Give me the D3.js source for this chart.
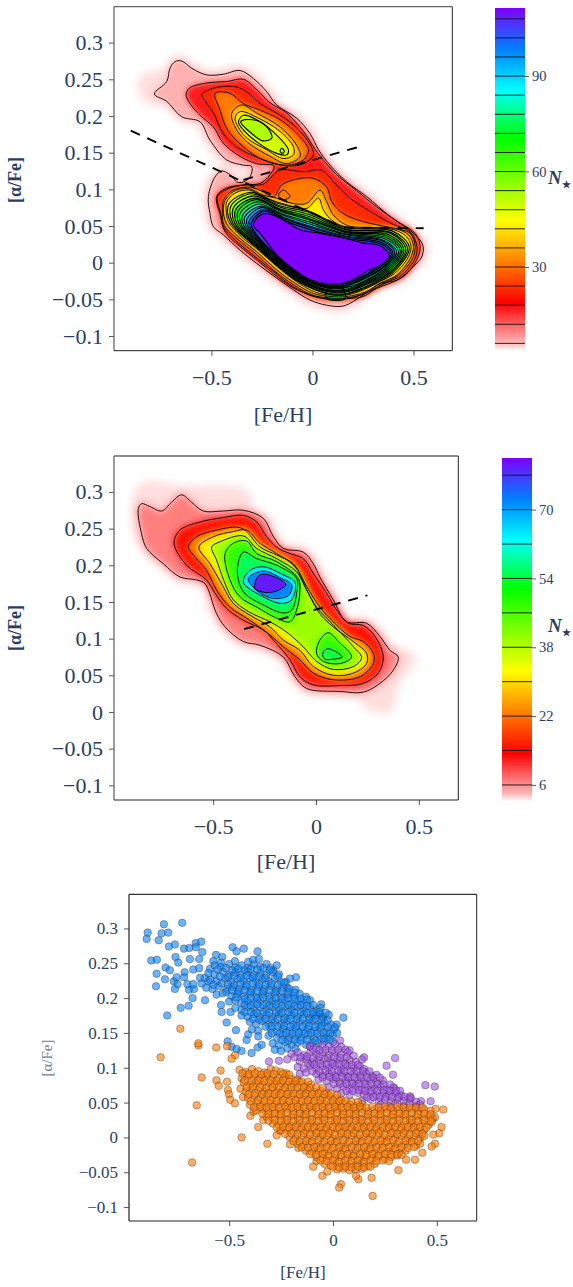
<!DOCTYPE html>
<html>
<head>
<meta charset="utf-8">
<script src="https://cdn.jsdelivr.net/npm/d3@7"></script>
<style>
  html, body { margin: 0; padding: 0; background: #fff; }
  svg { display: block; }
  text { font-family: "Liberation Serif", serif; fill: #2a3f5f; }
</style>
</head>
<body>
<svg id="chart"></svg>
<script>
const w = 573
const h = 1287

// axes
const fehTicks = [-0.5, 0, 0.5]
const alphaTicks = [0.3, 0.25, 0.2, 0.15, 0.1, 0.05, 0, -0.05, -0.1]
const fehDomain = [-0.982, 0.692]
const alphaDomain = [-0.12, 0.349]

// colour bars
const barTicksA = [30, 60, 90]
const barTicksB = [6, 22, 38, 54, 70]
const barRangeA = [3.6, 111.4]
const barRangeB = [2.1, 82]
const levelsA = [6, 12, 18, 24, 30, 36, 42, 48, 54, 60, 66, 72, 78, 84, 90, 96, 102, 108]
const levelsB = [6, 14, 22, 30, 38, 46, 54, 62, 70, 78]
const rainbowStops = [0, 0.025, 0.14, 0.26, 0.38, 0.5, 0.62, 0.69, 0.76, 0.88, 1]
const rainbowColors = ['#ffffff', '#ffb4b4', '#ff0000', '#ff8000', '#ffff00', '#80ff00', '#00ff00', '#00ff80', '#00ffff', '#0080ff', '#7f00ff']

// dashed separation lines
const splitLow = [[-0.899, 0.180], [0.153, 0.048], [0.550, 0.047]]
const splitHigh = [[-0.342, 0.113], [0.244, 0.159]]
const splitHighB = [[-0.350, 0.113], [0.250, 0.159]]

// top panel, density contours as [Fe/H], [a/Fe]
const ringA6 = [[-.782,.230],[-.721,.247],[-.705,.265],[-.680,.274],[-.647,.275],[-.597,.265],[-.523,.256],[-.441,.257],[-.358,.262],[-.292,.251],[-.226,.233],[-.177,.215],[-.078,.197],[-.012,.176],[.030,.154],[.087,.133],[.170,.110],[.269,.090],[.384,.063],[.492,.042],[.546,.024],[.541,.008],[.500,-.005],[.417,-.024],[.335,-.028],[.252,-.044],[.153,-.059],[.071,-.058],[-.012,-.051],[-.094,-.037],[-.177,-.021],[-.276,-.001],[-.358,.017],[-.441,.038],[-.490,.049],[-.507,.067],[-.515,.090],[-.482,.117],[-.449,.125],[-.399,.118],[-.375,.110],[-.342,.110],[-.309,.117],[-.300,.131],[-.342,.133],[-.424,.140],[-.507,.167],[-.556,.192],[-.647,.199],[-.721,.220]]
const ringA12 = [[-.625,.229],[-.609,.238],[-.523,.245],[-.424,.247],[-.342,.250],[-.276,.236],[-.210,.218],[-.127,.204],[-.045,.179],[.005,.158],[.051,.141],[.120,.120],[.219,.098],[.318,.076],[.426,.055],[.508,.040],[.533,.022],[.516,.004],[.459,-.017],[.384,-.028],[.318,-.035],[.252,-.046],[.170,-.049],[.071,-.049],[-.012,-.044],[-.102,-.033],[-.193,-.015],[-.276,.004],[-.358,.022],[-.432,.042],[-.454,.063],[-.474,.090],[-.432,.101],[-.342,.106],[-.259,.108],[-.210,.120],[-.190,.132],[-.276,.135],[-.358,.145],[-.441,.163],[-.490,.185],[-.556,.201],[-.606,.217]]
const ringA18up = [[-.548,.229],[-.490,.238],[-.383,.240],[-.325,.233],[-.259,.217],[-.177,.204],[-.094,.188],[-.020,.165],[.005,.147],[-.045,.135],[-.127,.132],[-.259,.142],[-.375,.158],[-.441,.176],[-.490,.204],[-.540,.224]]
const ringA24up = [[-.482,.231],[-.408,.231],[-.342,.217],[-.259,.208],[-.160,.195],[-.078,.176],[-.020,.154],[-.045,.140],[-.127,.133],[-.243,.140],[-.342,.158],[-.424,.183],[-.457,.208]]
const ringA30up = [[-.399,.204],[-.350,.215],[-.276,.204],[-.160,.185],[-.078,.160],[-.061,.145],[-.127,.135],[-.210,.145],[-.325,.165],[-.383,.185]]
const ringA36up = [[-.383,.197],[-.358,.206],[-.267,.197],[-.160,.179],[-.094,.158],[-.094,.147],[-.144,.142],[-.226,.154],[-.333,.172]]
const ringA42up = [[-.366,.192],[-.342,.201],[-.276,.195],[-.177,.174],[-.119,.154],[-.127,.147],[-.177,.149],[-.267,.163],[-.342,.181]]
const ringA48up = [[-.355,.192],[-.333,.195],[-.259,.192],[-.210,.179],[-.201,.170],[-.243,.166],[-.300,.176]]
const ringA48dot = [[-.160,.152],[-.152,.156],[-.139,.152],[-.149,.149]]
const ringA18 = [[-.470,.090],[-.416,.101],[-.333,.106],[-.243,.107],[-.177,.124],[-.144,.127],[-.045,.124],[.046,.126],[.112,.108],[.186,.088],[.285,.070],[.393,.053],[.483,.042],[.517,.022],[.508,.006],[.442,-.017],[.368,-.027],[.294,-.037],[.219,-.046],[.104,-.050],[.005,-.046],[-.094,-.033],[-.193,-.012],[-.292,.010],[-.375,.029],[-.441,.049],[-.454,.067]]
const ringA24 = [[-.441,.085],[-.399,.098],[-.325,.103],[-.259,.099],[-.193,.090],[-.152,.106],[-.078,.114],[.005,.115],[.071,.103],[.096,.083],[.153,.067],[.252,.056],[.384,.048],[.483,.040],[.508,.022],[.492,.004],[.426,-.017],[.351,-.028],[.269,-.041],[.170,-.048],[.087,-.048],[-.003,-.044],[-.094,-.030],[-.193,-.010],[-.284,.013],[-.366,.031],[-.437,.051],[-.446,.072]]
const ringA24hole = [[-.168,.092],[-.144,.099],[-.111,.090],[-.144,.086]]
const ringA30 = [[-.432,.085],[-.391,.097],[-.317,.101],[-.243,.092],[-.177,.088],[-.102,.081],[-.028,.081],[.038,.099],[.071,.083],[.104,.065],[.170,.051],[.252,.048],[.401,.047],[.475,.038],[.500,.022],[.480,.004],[.417,-.017],[.343,-.027],[.261,-.040],[.170,-.046],[.087,-.046],[.005,-.042],[-.086,-.028],[-.185,-.008],[-.276,.015],[-.358,.033],[-.427,.054],[-.441,.072]]
const ringA36 = [[-.424,.083],[-.383,.095],[-.312,.099],[-.243,.090],[-.177,.083],[-.086,.076],[-.028,.074],[.030,.088],[.054,.072],[.096,.058],[.162,.049],[.401,.045],[.467,.035],[.488,.022],[.467,.004],[.404,-.015],[.332,-.026],[.252,-.037],[.170,-.044],[.087,-.044],[.013,-.040],[-.078,-.026],[-.177,-.005],[-.267,.017],[-.350,.035],[-.416,.056],[-.427,.072]]
const ringA42 = [[-.413,.080],[-.306,.096],[-.172,.081],[-.025,.071],[.163,.048],[.396,.043],[.479,.021],[.397,-.014],[.248,-.036],[.167,-.043],[.086,-.043],[-.075,-.025],[-.260,.017],[-.405,.055]]
const ringA48 = [[-.402,.078],[-.299,.094],[-.167,.078],[-.022,.069],[.163,.046],[.390,.041],[.470,.020],[.390,-.013],[.244,-.035],[.165,-.042],[.084,-.042],[-.073,-.025],[-.253,.016],[-.394,.054]]
const ringA54 = [[-.391,.075],[-.293,.091],[-.163,.076],[-.020,.066],[.164,.045],[.385,.040],[.461,.019],[.382,-.013],[.240,-.033],[.162,-.040],[.083,-.040],[-.070,-.024],[-.247,.016],[-.383,.053]]
const ringA60 = [[-.380,.072],[-.286,.088],[-.158,.073],[-.017,.063],[.165,.043],[.379,.038],[.452,.018],[.375,-.012],[.236,-.032],[.159,-.039],[.082,-.039],[-.067,-.023],[-.240,.016],[-.372,.052]]
const ringA66 = [[-.369,.070],[-.280,.086],[-.153,.071],[-.014,.060],[.166,.042],[.374,.036],[.443,.017],[.368,-.011],[.232,-.031],[.156,-.038],[.080,-.038],[-.064,-.023],[-.233,.015],[-.361,.052]]
const ringA72 = [[-.358,.067],[-.273,.083],[-.148,.069],[-.012,.058],[.166,.041],[.368,.034],[.435,.016],[.361,-.010],[.228,-.030],[.154,-.037],[.079,-.037],[-.062,-.022],[-.226,.015],[-.350,.051]]
const ringA78 = [[-.347,.064],[-.267,.080],[-.143,.066],[-.009,.055],[.167,.039],[.363,.032],[.426,.015],[.354,-.009],[.223,-.029],[.151,-.035],[.078,-.035],[-.059,-.021],[-.219,.015],[-.339,.050]]
const ringA84 = [[-.336,.062],[-.260,.077],[-.138,.064],[-.006,.052],[.167,.038],[.357,.030],[.417,.014],[.347,-.008],[.219,-.027],[.148,-.034],[.076,-.034],[-.056,-.021],[-.212,.014],[-.328,.049]]
const ringA90 = [[-.325,.059],[-.254,.075],[-.134,.061],[-.003,.049],[.168,.036],[.352,.029],[.408,.013],[.340,-.008],[.215,-.026],[.145,-.033],[.075,-.033],[-.053,-.020],[-.205,.014],[-.317,.048]]
const ringA96 = [[-.314,.056],[-.247,.072],[-.129,.059],[-.001,.047],[.169,.035],[.346,.027],[.399,.012],[.332,-.007],[.211,-.025],[.142,-.032],[.074,-.032],[-.051,-.019],[-.199,.014],[-.306,.047]]
const ringA102 = [[-.303,.054],[-.241,.070],[-.124,.056],[.002,.044],[.169,.033],[.341,.025],[.390,.011],[.325,-.006],[.207,-.024],[.140,-.030],[.072,-.030],[-.048,-.019],[-.192,.013],[-.295,.046]]
const ringA108 = [[-.292,.051],[-.267,.063],[-.234,.067],[-.177,.063],[-.119,.054],[-.061,.045],[.038,.040],[.137,.035],[.252,.027],[.335,.023],[.381,.010],[.351,-.001],[.269,-.012],[.203,-.023],[.137,-.029],[.071,-.029],[-.012,-.023],[-.078,-.012],[-.160,.006],[-.210,.022],[-.259,.040]]
const ringAdome = [[.071,-.049],[.071,-.037],[.112,-.033],[.153,-.037],[.162,-.049]]
const fadeA = [[[-.853,.254],[-.72,.26],[-.74,.215],[-.85,.225]], [[-.85,.293],[-.84,.293],[-.84,.289],[-.85,.289]]]

const contoursA = [
  [6, ringA6], [12, ringA12], [18, ringA18up], [18, ringA18], [21, ringA24hole, true], [24, ringA24up], [24, ringA24],
  [30, ringA30up], [30, ringA30], [36, ringA36up], [36, ringA36], [42, ringA42up], [42, ringA42], [48, ringA48up], [48, ringA48dot], [48, ringA48],
  [54, ringA54], [60, ringA60], [66, ringA66], [72, ringA72], [78, ringA78], [84, ringA84], [90, ringA90], [96, ringA96], [102, ringA102], [108, ringA108], [60, ringAdome]
]

// middle panel
const ringB6 = [[-.864,.277],[-.848,.284],[-.807,.280],[-.750,.274],[-.702,.286],[-.653,.296],[-.605,.286],[-.548,.274],[-.451,.274],[-.353,.275],[-.256,.264],[-.207,.239],[-.159,.223],[-.062,.218],[-.013,.202],[.019,.184],[.084,.153],[.149,.123],[.246,.121],[.311,.103],[.360,.084],[.400,.075],[.376,.057],[.311,.039],[.230,.027],[.117,.028],[-.045,.032],[-.102,.048],[-.159,.075],[-.272,.091],[-.353,.096],[-.442,.116],[-.483,.134],[-.540,.175],[-.580,.180],[-.661,.184],[-.742,.202],[-.823,.223],[-.848,.243]]
const ringB14 = [[-.690,.230],[-.661,.248],[-.564,.259],[-.451,.265],[-.353,.268],[-.288,.259],[-.240,.239],[-.183,.223],[-.126,.216],[-.062,.209],[-.013,.189],[.052,.162],[.100,.139],[.157,.121],[.230,.118],[.287,.103],[.327,.075],[.303,.053],[.230,.039],[.117,.036],[-.013,.037],[-.078,.048],[-.126,.071],[-.207,.098],[-.256,.112],[-.353,.125],[-.434,.141],[-.491,.162],[-.532,.180],[-.629,.200]]
const ringB22 = [[-.621,.225],[-.580,.239],[-.483,.248],[-.386,.252],[-.345,.248],[-.272,.225],[-.191,.214],[-.110,.202],[-.045,.171],[.019,.143],[.084,.123],[.165,.103],[.230,.096],[.279,.080],[.279,.066],[.214,.048],[.084,.044],[-.013,.053],[-.078,.071],[-.159,.089],[-.224,.105],[-.321,.125],[-.418,.143],[-.483,.166],[-.532,.193],[-.596,.214]]
const ringB30 = [[-.569,.225],[-.499,.239],[-.402,.246],[-.337,.248],[-.272,.230],[-.191,.216],[-.102,.198],[-.037,.162],[.019,.134],[.084,.116],[.182,.096],[.246,.080],[.246,.066],[.182,.053],[.084,.050],[-.013,.062],[-.078,.084],[-.159,.098],[-.224,.116],[-.321,.132],[-.402,.148],[-.459,.175],[-.515,.202]]
const ringB38 = [[-.507,.225],[-.467,.232],[-.353,.240],[-.288,.223],[-.191,.209],[-.094,.191],[-.045,.166],[.003,.143],[.076,.121],[.182,.089],[.222,.074],[.182,.062],[.084,.058],[.003,.069],[-.062,.089],[-.143,.109],[-.224,.123],[-.329,.137],[-.402,.153],[-.442,.175],[-.483,.207]]
const ringB46 = [[-.442,.216],[-.402,.230],[-.337,.233],[-.288,.216],[-.191,.205],[-.086,.182],[-.078,.166],[-.094,.139],[-.126,.123],[-.191,.128],[-.288,.143],[-.370,.157],[-.418,.180]]
const ringB46low = [[.003,.080],[.019,.098],[.060,.108],[.109,.096],[.173,.075],[.117,.066],[.036,.069]]
const ringB54 = [[-.382,.193],[-.353,.218],[-.288,.209],[-.191,.200],[-.094,.182],[-.094,.162],[-.118,.139],[-.159,.135],[-.256,.146],[-.353,.164]]
const ringB54low = [[.032,.079],[.052,.086],[.084,.084],[.128,.075],[.084,.072],[.044,.072]]
const ringB62 = [[-.353,.177],[-.321,.193],[-.256,.198],[-.159,.187],[-.102,.177],[-.118,.153],[-.167,.148],[-.256,.157]]
const ringB70 = [[-.329,.182],[-.256,.192],[-.175,.183],[-.118,.173],[-.134,.159],[-.207,.155],[-.280,.164]]
const ringB78 = [[-.297,.175],[-.281,.185],[-.248,.188],[-.146,.174],[-.191,.165],[-.248,.163],[-.297,.168]]
const fadeB = [[[-.896,.275],[-.856,.311],[-.645,.309],[-.337,.302],[-.321,.271],[-.840,.221]], [[.327,.089],[.489,.075],[.408,.039],[.360,.000],[.230,.007],[.214,.030]]]

const contoursB = [
  [6, ringB6], [14, ringB14], [22, ringB22], [30, ringB30], [38, ringB38], [46, ringB46], [46, ringB46low],
  [54, ringB54], [54, ringB54low], [62, ringB62], [70, ringB70], [78, ringB78]
]

// bottom panel, stars by population
const blueStars = [[-.897,.285],[-.892,.294],[-.814,.306],[-.726,.308],[-.825,.293],[-.793,.294],[-.839,.283],[-.790,.274],[-.761,.277],[-.661,.279],[-.634,.281],[-.717,.271],[-.692,.272],[-.660,.273],[-.629,.266],[-.483,.273],[-.464,.267],[-.429,.271],[-.363,.267],[-.563,.262],[-.533,.259],[-.875,.254],[-.848,.255],[-.758,.259],[-.745,.251],[-.689,.256],[-.644,.256],[-.576,.253],[-.539,.251],[-.472,.253],[-.408,.252],[-.384,.255],[-.356,.256],[-.849,.235],[-.806,.244],[-.785,.240],[-.714,.237],[-.673,.241],[-.644,.243],[-.592,.242],[-.809,.227],[-.852,.217],[-.766,.224],[-.753,.230],[-.717,.230],[-.761,.213],[-.748,.220],[-.693,.212],[-.669,.213],[-.701,.220],[-.673,.220],[-.640,.229],[-.632,.221],[-.616,.229],[-.600,.224],[-.676,.200],[-.695,.189],[-.733,.186],[-.798,.175],[-.616,.197],[-.512,.165],[-.536,.180],[-.539,.190],[-.493,.180],[-.467,.154],[-.507,.138],[-.488,.130],[-.464,.127],[-.440,.124],[-.392,.121],[-.363,.129],[-.343,.133],[-.416,.140],[-.408,.148],[.050,.172],[.018,.162],[-.056,.191],[-.178,.230],[-.207,.228],[-.228,.223],[-.271,.247],[-.287,.240],[-.095,.177],[-.063,.177],[-.047,.173],
[-.57,.247],[-.54,.245],[-.50,.249],[-.47,.244],[-.44,.247],[-.41,.243],[-.38,.248],[-.35,.245],[-.32,.249],[-.30,.243],
[-.60,.236],[-.57,.234],[-.53,.238],[-.50,.233],[-.47,.237],[-.44,.234],[-.41,.238],[-.38,.233],[-.35,.236],[-.32,.233],[-.29,.237],[-.26,.234],
[-.59,.226],[-.56,.224],[-.52,.228],[-.49,.223],[-.46,.227],[-.43,.224],[-.40,.228],[-.37,.223],[-.34,.227],[-.31,.224],[-.28,.228],[-.25,.223],[-.22,.215],
[-.61,.215],[-.58,.213],[-.55,.217],[-.51,.213],[-.48,.216],[-.45,.213],[-.42,.217],[-.39,.212],[-.36,.216],[-.33,.213],[-.30,.217],[-.27,.212],[-.24,.215],[-.21,.213],[-.18,.212],
[-.56,.205],[-.53,.207],[-.49,.203],[-.46,.206],[-.43,.203],[-.40,.207],[-.37,.202],[-.34,.206],[-.31,.203],[-.28,.207],[-.25,.202],[-.22,.205],[-.19,.203],[-.16,.206],[-.13,.202],
[-.50,.195],[-.47,.197],[-.44,.193],[-.41,.196],[-.38,.193],[-.35,.197],[-.32,.192],[-.29,.196],[-.26,.193],[-.23,.197],[-.20,.192],[-.17,.196],[-.14,.193],[-.11,.197],
[-.47,.186],[-.44,.183],[-.41,.187],[-.38,.183],[-.35,.186],[-.32,.183],[-.29,.187],[-.26,.182],[-.23,.186],[-.20,.183],[-.17,.187],[-.14,.182],[-.11,.186],[-.08,.183],[-.06,.186],
[-.44,.175],[-.41,.173],[-.38,.177],[-.35,.173],[-.32,.176],[-.29,.173],[-.26,.177],[-.23,.172],[-.20,.176],[-.17,.173],[-.14,.177],[-.11,.172],[-.08,.175],[-.05,.172],[-.02,.176],
[-.40,.166],[-.37,.163],[-.34,.167],[-.31,.163],[-.28,.166],[-.25,.163],[-.22,.167],[-.19,.162],[-.16,.166],[-.13,.163],[-.10,.167],[-.07,.162],[-.04,.165],[-.01,.162],
[-.39,.155],[-.36,.153],[-.30,.156],[-.27,.152],[-.24,.156],[-.21,.153],[-.18,.157],[-.15,.152],[-.12,.156],[-.09,.153],[-.06,.157],[-.03,.152],[.005,.155],
[-.36,.145],[-.31,.146],[-.27,.143],[-.24,.147],[-.21,.143],[-.18,.146],[-.15,.143],[-.12,.147],[-.09,.142],[-.06,.146],[-.03,.143],[0,.146],[.02,.150],
[-.29,.135],[-.26,.132],[-.23,.137],[-.20,.133],[-.17,.136],[-.13,.133],[-.10,.136],[-.07,.135],[-.04,.138],[0,.137],
[-.28,.126],[-.25,.124],[-.22,.128],[-.18,.127],
[-.555,.241],[-.515,.243],[-.485,.240],[-.455,.242],[-.425,.240],[-.395,.242],[-.365,.241],[-.335,.243],[-.305,.240],
[-.545,.231],[-.505,.230],[-.475,.232],[-.445,.229],[-.415,.232],[-.385,.230],[-.355,.231],[-.325,.229],[-.265,.231],
[-.575,.219],[-.535,.221],[-.505,.220],[-.475,.219],[-.445,.221],[-.415,.219],[-.385,.221],[-.355,.220],[-.325,.219],[-.295,.221],[-.265,.219],[-.235,.222],
[-.515,.209],[-.485,.211],[-.455,.209],[-.425,.211],[-.395,.209],[-.365,.210],[-.335,.209],[-.305,.211],[-.275,.209],[-.245,.210],[-.215,.208],[-.185,.208],
[-.465,.201],[-.425,.199],[-.395,.200],[-.365,.199],[-.335,.201],[-.305,.199],[-.275,.200],[-.245,.199],[-.215,.200],[-.185,.199],[-.155,.199],[-.125,.198],
[-.425,.190],[-.395,.189],[-.365,.191],[-.335,.190],[-.305,.189],[-.275,.191],[-.245,.189],[-.215,.190],[-.185,.189],[-.155,.190],[-.125,.189],[-.095,.190],
[-.425,.180],[-.395,.180],[-.365,.179],[-.335,.180],[-.305,.179],[-.275,.180],[-.245,.179],[-.215,.180],[-.185,.179],[-.155,.180],[-.125,.179],[-.095,.180],[-.065,.180],[-.035,.179],
[-.385,.170],[-.355,.169],[-.325,.170],[-.295,.169],[-.265,.170],[-.235,.169],[-.205,.170],[-.175,.169],[-.145,.170],[-.115,.169],[-.085,.170],[-.055,.168],[-.025,.168],
[-.325,.159],[-.295,.160],[-.265,.159],[-.235,.160],[-.205,.159],[-.175,.160],[-.145,.159],[-.115,.160],[-.085,.159],[-.055,.160],[-.025,.158],[.01,.158],
[-.295,.150],[-.255,.149],[-.225,.150],[-.195,.149],[-.165,.150],[-.135,.149],[-.105,.150],[-.075,.149],[-.045,.150],[-.015,.149],
[-.245,.140],[-.215,.139],[-.185,.140],[-.155,.139],[-.125,.140],[-.085,.139],[-.045,.141],[-.015,.141]]
const purpleStars = [[-.308,.109],[.299,.114],[.258,.103],[.289,.090],[.445,.075],[.490,.073],[.295,.071],[.323,.067],[.371,.059],[.424,.052],[.470,.052],[-.11,.130],[.034,.139],[.08,.125],[.15,.115],[.14,.112],
[-.11,.131],[-.08,.128],[-.05,.133],[-.02,.130],[.01,.134],[.04,.130],[.06,.126],
[-.20,.120],[-.17,.122],[-.14,.118],[-.11,.122],[-.08,.119],[-.05,.122],[-.02,.118],[.01,.122],[.04,.119],[.07,.122],[.10,.117],
[-.26,.110],[-.22,.112],[-.16,.109],[-.13,.112],[-.10,.108],[-.07,.111],[-.04,.113],[-.01,.108],[.02,.112],[.05,.108],[.08,.111],[.11,.108],
[-.17,.101],[-.14,.099],[-.11,.103],[-.08,.099],[-.05,.102],[-.02,.099],[.01,.103],[.04,.098],[.07,.102],[.10,.099],[.13,.102],[.15,.098],
[-.16,.091],[-.13,.093],[-.08,.091],[-.05,.089],[-.02,.092],[.01,.089],[.04,.093],[.07,.088],[.10,.092],[.13,.089],[.16,.092],[.19,.088],[.21,.090],
[-.07,.083],[-.03,.081],[0,.084],[.03,.080],[.06,.083],[.09,.079],[.12,.083],[.15,.080],[.18,.083],[.21,.079],[.24,.082],
[-.02,.072],[.02,.070],[.05,.073],[.08,.070],[.11,.074],[.14,.069],[.17,.073],[.20,.070],[.23,.073],[.26,.069],[.29,.072],
[.04,.063],[.08,.061],[.12,.064],[.15,.061],[.18,.065],[.21,.060],[.24,.064],[.27,.061],[.30,.064],[.33,.060],
[.14,.053],[.18,.055],[.22,.052],[.25,.055],[.28,.051],[.31,.055],[.34,.052],[.37,.055],[.40,.051],
[.23,.047],[.27,.045],[.30,.048],[.34,.045],[.37,.048],[.40,.045],[.42,.047],
[-.095,.126],[-.065,.125],[-.035,.126],[-.005,.125],[.025,.126],[-.185,.115],[-.155,.115],[-.125,.116],[-.095,.114],[-.065,.116],[-.025,.114],[.005,.115],[.035,.114],[.065,.115],
[-.12,.106],[-.09,.105],[-.06,.106],[-.03,.105],[0,.106],[.03,.105],[.06,.105],[.09,.104],[.12,.104],
[-.10,.095],[-.065,.095],[-.035,.096],[-.005,.095],[.025,.096],[.055,.095],[.085,.095],[.115,.095],[.145,.095],[.175,.095],
[-.05,.086],[-.015,.087],[.015,.086],[.045,.087],[.075,.086],[.105,.086],[.135,.086],[.165,.086],[.195,.085],[.225,.086],
[.005,.077],[.035,.077],[.065,.077],[.095,.077],[.125,.077],[.155,.076],[.185,.077],[.215,.076],[.245,.076],[.275,.076],
[.065,.067],[.095,.067],[.125,.068],[.155,.067],[.185,.067],[.215,.067],[.245,.068],[.275,.067],[.305,.067],
[.165,.058],[.195,.058],[.225,.058],[.255,.058],[.285,.058],[.315,.058],[.345,.058],[.375,.057]]
const orangeStars = [[-.735,.156],[-.830,.115],[-.648,.132],[-.648,.135],[-.562,.129],[-.510,.131],[-.472,.118],[-.488,.113],[-.541,.096],[-.632,.086],[-.561,.082],[-.550,.074],[-.510,.080],[-.506,.068],[-.501,.062],[-.495,.054],[-.472,.049],[-.656,.046],[-.440,.000],[-.316,-.009],[-.678,-.036],[-.360,.015],[-.336,.025],[-.398,.031],[-.382,.037],[-.433,.058],[-.445,.070],[.531,.040],[.494,.041],[.491,.029],[.523,.015],[.512,.006],[.483,.004],[.491,-.009],[.475,-.013],[.430,-.022],[.395,-.032],[.352,-.032],[.315,-.047],[.186,-.058],[.038,-.067],[.030,-.072],[.191,-.084],[.122,-.060],[.111,-.055],[-.051,-.055],[-.027,-.049],[-.095,-.042],[-.079,-.034],[-.207,-.010],[-.167,-.015],[-.271,.003],[-.255,.010],
[-.45,.097],[-.42,.094],[-.39,.098],[-.36,.095],[-.33,.093],[-.30,.098],[-.275,.096],[-.25,.094],[-.225,.092],
[-.44,.085],[-.41,.089],[-.38,.086],[-.35,.084],[-.32,.088],[-.29,.086],[-.26,.085],[-.23,.087],[-.20,.084],[-.17,.083],
[-.43,.079],[-.40,.076],[-.37,.078],[-.34,.075],[-.31,.079],[-.28,.076],[-.25,.078],[-.22,.075],[-.19,.077],[-.16,.079],[-.13,.074],[-.105,.076],
[-.42,.066],[-.39,.069],[-.36,.067],[-.33,.065],[-.30,.069],[-.27,.066],[-.24,.068],[-.21,.065],[-.18,.069],[-.15,.066],[-.12,.068],[-.09,.065],[-.06,.067],[-.03,.064],
[-.41,.057],[-.38,.060],[-.35,.056],[-.32,.059],[-.29,.057],[-.26,.060],[-.23,.056],[-.20,.059],[-.17,.057],[-.14,.060],[-.11,.056],[-.08,.059],[-.05,.057],[-.02,.060],[.01,.056],[.04,.054],
[-.40,.047],[-.37,.050],[-.34,.046],[-.31,.049],[-.28,.047],[-.25,.050],[-.22,.046],[-.19,.049],[-.16,.047],[-.13,.050],[-.10,.046],[-.07,.049],[-.04,.047],[-.01,.050],[.02,.046],[.05,.049],[.08,.047],[.11,.045],[.14,.048],
[-.37,.039],[-.34,.041],[-.31,.037],[-.28,.040],[-.25,.038],[-.22,.041],[-.19,.037],[-.16,.040],[-.13,.038],[-.10,.041],[-.07,.037],[-.04,.040],[-.01,.038],[.02,.041],[.05,.037],[.08,.040],[.11,.038],[.14,.041],[.17,.037],[.20,.040],[.23,.038],[.26,.041],[.29,.037],[.32,.040],[.35,.038],[.38,.041],[.41,.037],[.44,.040],[.47,.038],
[-.32,.030],[-.29,.028],[-.26,.031],[-.23,.027],[-.20,.030],[-.17,.028],[-.14,.031],[-.11,.027],[-.08,.030],[-.05,.028],[-.02,.031],[.01,.027],[.04,.030],[.07,.028],[.10,.031],[.13,.027],[.16,.030],[.19,.028],[.22,.031],[.25,.027],[.28,.030],[.31,.028],[.34,.031],[.37,.027],[.40,.030],[.43,.028],[.46,.031],[.48,.027],
[-.29,.020],[-.26,.018],[-.23,.021],[-.20,.017],[-.17,.020],[-.14,.018],[-.11,.021],[-.08,.017],[-.05,.020],[-.02,.018],[.01,.021],[.04,.017],[.07,.020],[.10,.018],[.13,.021],[.16,.017],[.19,.020],[.22,.018],[.25,.021],[.28,.017],[.31,.020],[.34,.018],[.37,.021],[.40,.017],[.43,.020],[.46,.018],[.475,.022],
[-.25,.010],[-.22,.012],[-.19,.008],[-.16,.011],[-.13,.009],[-.10,.012],[-.07,.008],[-.04,.011],[-.01,.009],[.02,.012],[.05,.008],[.08,.011],[.11,.009],[.14,.012],[.17,.008],[.20,.011],[.23,.009],[.26,.012],[.29,.008],[.32,.011],[.35,.009],[.38,.012],[.41,.008],[.44,.011],
[-.21,.001],[-.18,-.002],[-.15,.002],[-.12,-.002],[-.09,.001],[-.06,-.001],[-.03,.002],[0,-.002],[.03,.001],[.06,-.001],[.09,.002],[.12,-.002],[.15,.001],[.18,-.001],[.21,.002],[.24,-.002],[.27,.001],[.30,-.001],[.33,.002],[.36,-.002],[.39,.001],[.42,-.001],[.44,.002],
[-.17,-.009],[-.14,-.011],[-.11,-.008],[-.08,-.012],[-.05,-.009],[-.02,-.011],[.01,-.008],[.04,-.012],[.07,-.009],[.10,-.011],[.13,-.008],[.16,-.012],[.19,-.009],[.22,-.011],[.25,-.008],[.28,-.012],[.31,-.009],[.34,-.011],[.37,-.008],[.40,-.012],[.42,-.009],
[-.13,-.019],[-.10,-.021],[-.07,-.018],[-.04,-.022],[-.01,-.019],[.02,-.021],[.05,-.018],[.08,-.022],[.11,-.019],[.14,-.021],[.17,-.018],[.20,-.022],[.23,-.019],[.26,-.021],[.29,-.018],[.32,-.022],[.35,-.019],
[-.08,-.028],[-.05,-.030],[-.02,-.027],[.01,-.031],[.04,-.028],[.07,-.030],[.10,-.027],[.13,-.031],[.16,-.028],[.19,-.030],[.22,-.027],[.25,-.031],[.28,-.028],[.31,-.026],
[-.04,-.038],[-.01,-.040],[.02,-.037],[.05,-.041],[.08,-.038],[.11,-.040],[.14,-.037],[.17,-.041],[.20,-.038],
[.02,-.046],[.05,-.045],[.08,-.047],[.11,-.046],[.14,-.045],
[-.435,.092],[-.405,.091],[-.375,.092],[-.345,.090],[-.315,.092],[-.285,.091],[-.24,.091],[-.21,.090],
[-.425,.082],[-.39,.081],[-.36,.082],[-.33,.081],[-.30,.082],[-.27,.081],[-.24,.082],[-.21,.080],[-.18,.081],[-.15,.080],[-.12,.080],
[-.415,.072],[-.385,.073],[-.35,.072],[-.32,.071],[-.29,.072],[-.26,.073],[-.23,.071],[-.20,.072],[-.17,.072],[-.14,.072],[-.11,.071],[-.08,.072],[-.05,.071],
[-.405,.062],[-.375,.063],[-.34,.062],[-.31,.063],[-.28,.062],[-.25,.063],[-.22,.062],[-.19,.063],[-.16,.062],[-.13,.063],[-.10,.062],[-.07,.063],[-.04,.062],[-.01,.063],[.02,.061],
[-.395,.052],[-.36,.053],[-.33,.052],[-.30,.053],[-.27,.052],[-.24,.053],[-.21,.052],[-.18,.053],[-.15,.052],[-.12,.053],[-.09,.052],[-.06,.053],[-.03,.052],[0,.053],[.03,.052],[.06,.052],[.09,.051],[.12,.051],
[-.38,.043],[-.35,.044],[-.32,.043],[-.29,.044],[-.26,.043],[-.23,.044],[-.20,.043],[-.17,.044],[-.14,.043],[-.11,.044],[-.08,.043],[-.05,.044],[-.02,.043],[.01,.044],[.04,.043],[.07,.044],[.10,.043],[.13,.044],[.16,.043],[.19,.044],[.22,.043],[.25,.044],[.28,.043],[.31,.044],[.34,.043],[.37,.043],[.40,.043],[.43,.043],
[-.34,.034],[-.31,.033],[-.28,.034],[-.25,.033],[-.22,.035],[-.19,.033],[-.16,.034],[-.13,.033],[-.10,.035],[-.07,.033],[-.04,.034],[-.01,.033],[.02,.035],[.05,.033],[.08,.034],[.11,.033],[.14,.035],[.17,.033],[.20,.034],[.23,.033],[.26,.035],[.29,.033],[.32,.034],[.35,.033],[.38,.035],[.41,.033],[.44,.034],[.47,.033],
[-.31,.024],[-.28,.025],[-.25,.024],[-.22,.025],[-.19,.023],[-.16,.025],[-.13,.024],[-.10,.025],[-.07,.023],[-.04,.025],[-.01,.024],[.02,.025],[.05,.023],[.08,.025],[.11,.024],[.14,.025],[.17,.023],[.20,.025],[.23,.024],[.26,.025],[.29,.023],[.32,.025],[.35,.024],[.38,.025],[.41,.023],[.44,.025],[.47,.024],
[-.27,.014],[-.24,.015],[-.21,.014],[-.18,.015],[-.15,.013],[-.12,.015],[-.09,.014],[-.06,.015],[-.03,.013],[0,.015],[.03,.014],[.06,.015],[.09,.013],[.12,.015],[.15,.014],[.18,.015],[.21,.013],[.24,.015],[.27,.014],[.30,.015],[.33,.013],[.36,.015],[.39,.014],[.42,.015],[.45,.014],
[-.23,.005],[-.20,.006],[-.17,.005],[-.14,.006],[-.11,.004],[-.08,.006],[-.05,.005],[-.02,.006],[.01,.004],[.04,.006],[.07,.005],[.10,.006],[.13,.004],[.16,.006],[.19,.005],[.22,.006],[.25,.004],[.28,.006],[.31,.005],[.34,.006],[.37,.004],[.40,.006],[.43,.005],
[-.19,-.005],[-.16,-.006],[-.13,-.005],[-.10,-.006],[-.07,-.004],[-.04,-.006],[-.01,-.005],[.02,-.006],[.05,-.004],[.08,-.006],[.11,-.005],[.14,-.006],[.17,-.004],[.20,-.006],[.23,-.005],[.26,-.006],[.29,-.004],[.32,-.006],[.35,-.005],[.38,-.006],[.41,-.005],
[-.15,-.014],[-.12,-.015],[-.09,-.014],[-.06,-.016],[-.03,-.014],[0,-.015],[.03,-.014],[.06,-.016],[.09,-.014],[.12,-.015],[.15,-.014],[.18,-.016],[.21,-.014],[.24,-.015],[.27,-.014],[.30,-.016],[.33,-.014],[.36,-.015],[.39,-.014],
[-.11,-.024],[-.08,-.025],[-.05,-.024],[-.02,-.026],[.01,-.024],[.04,-.025],[.07,-.024],[.10,-.026],[.13,-.024],[.16,-.025],[.19,-.024],[.22,-.026],[.25,-.024],[.28,-.025],[.31,-.024],[.33,-.025],
[-.06,-.033],[-.03,-.034],[0,-.033],[.03,-.035],[.06,-.033],[.09,-.034],[.12,-.033],[.15,-.035],[.18,-.033],[.21,-.034],[.24,-.033],[.27,-.034],
[0,-.042],[.03,-.043],[.06,-.042],[.09,-.043],[.12,-.042],[.15,-.043],[.18,-.042]]

const svg = d3.select('#chart').attr('width', w).attr('height', h)
const defs = svg.append('defs')

const addBlur = (id, sd) => {
  defs.append('filter').attr('id', id).attr('x', '-60%').attr('y', '-60%').attr('width', '220%').attr('height', '220%')
    .append('feGaussianBlur').attr('stdDeviation', sd)
}
addBlur('soft1', 0.9)
addBlur('soft2', 2.4)
addBlur('soft3', 3.6)
addBlur('fade', 4)

const makeColor = range => {
  const t = d3.scaleLinear().domain(range).range([0, 1])
  const c = d3.scaleLinear().domain(rainbowStops).range(rainbowColors).clamp(true)
  return n => c(t(n))
}

// frame, ticks and titles, same for all three panels
const makePanel = (o) => {
  const x = d3.scaleLinear().domain(fehDomain).range([o.left, o.right])
  const y = d3.scaleLinear().domain(alphaDomain).range([o.bottom, o.top])
  const fmt = d => d3.format('')(d).replace('-', '\u2212')

  const xAxisG = svg.append('g')
    .attr('transform', `translate(0, ${o.bottom})`)
    .call(d3.axisBottom(x).tickValues(fehTicks).tickFormat(fmt).tickSize(5).tickPadding(o.padX))
  const yAxisG = svg.append('g')
    .attr('transform', `translate(${o.left}, 0)`)
    .call(d3.axisLeft(y).tickValues(alphaTicks).tickFormat(fmt).tickSize(5).tickPadding(6))
  xAxisG.select('.domain').remove()
  yAxisG.select('.domain').remove()
  svg.selectAll('.tick line').attr('stroke', '#555')
  for (const g of [xAxisG, yAxisG]) {
    g.selectAll('text').attr('font-size', o.tickSize).attr('font-family', '"Liberation Serif", serif').attr('fill', '#2a3f5f')
  }

  svg.append('text').text('[Fe/H]')
    .attr('x', o.titleX).attr('y', o.titleY)
    .attr('text-anchor', 'middle').attr('font-size', o.titleSize)
  svg.append('text').text('[\u03b1/Fe]')
    .attr('transform', `translate(${o.alphaX}, ${o.alphaY}) rotate(-90)`)
    .attr('text-anchor', 'middle').attr('font-size', o.alphaSize)
    .attr('font-weight', o.alphaBold ? 'bold' : 'normal')
    .style('fill', o.alphaFill)

  const clipId = 'clip' + Math.round(o.left) + Math.round(o.top)
  defs.append('clipPath').attr('id', clipId).append('rect')
    .attr('x', o.left).attr('y', o.top).attr('width', o.right - o.left).attr('height', o.bottom - o.top)
  const plot = svg.append('g').attr('clip-path', `url(#${clipId})`)

  return {x, y, plot}
}

const addFrame = (o, soft) => {
  const edge = (x1, y1, x2, y2, c, sw) => svg.append('line')
    .attr('x1', x1).attr('y1', y1).attr('x2', x2).attr('y2', y2).attr('stroke', c).attr('stroke-width', sw)
  edge(o.left, o.top, o.right, o.top, soft, 1.3)
  edge(o.left, o.top, o.left, o.bottom, soft, 1.3)
  edge(o.right, o.top, o.right, o.bottom, '#222', 1)
  edge(o.left, o.bottom, o.right, o.bottom, '#222', 1)
}

const drawDensity = (o, contours, fades, range, step, dashes) => {
  const {x, y, plot} = makePanel(o)
  const color = makeColor(range)
  const ring = d3.line().x(d => x(d[0])).y(d => y(d[1])).curve(d3.curveCatmullRomClosed.alpha(0.5))

  const fadeG = plot.append('g').attr('filter', 'url(#fade)')
  fadeG.selectAll('path.patch').data(fades).enter().append('path')
    .attr('class', 'patch').attr('d', ring).attr('fill', '#ffdede')
  fadeG.append('path').attr('d', ring(contours[0][1]))
    .attr('fill', '#ffd0d0').attr('stroke', '#ffd0d0').attr('stroke-width', 9)

  const top = range[1] - 6
  plot.append('g').selectAll('path').data(contours).enter().append('path')
    .attr('d', d => ring(d[1]))
    .attr('fill', d => {
      if (d[2]) return color(d[0])
      if (d[0] === contours[0][0]) return color(d[0] + step * 0.1)
      return color(d[0] + step * o.lift(d[0]))
    })
    .attr('filter', d => {
      if (d[0] >= top) return null
      return `url(#${d[0] <= o.softUpTo ? o.softBlur : 'soft1'})`
    })

  plot.append('g').selectAll('path').data(contours).enter().append('path')
    .attr('d', d => ring(d[1]))
    .attr('fill', 'none').attr('stroke', '#000')
    .attr('stroke-width', d => d[0] >= o.thickFrom ? 1.15 : 0.9)

  const dashLine = d3.line().x(d => x(d[0])).y(d => y(d[1]))
  plot.append('g').selectAll('path').data(dashes).enter().append('path')
    .attr('d', dashLine).attr('fill', 'none')
    .attr('stroke', '#000').attr('stroke-width', 1.9).attr('stroke-dasharray', '10 8')

  addFrame(o, '#666')
}

const drawBar = (b, range, levels, ticks, id) => {
  const yBar = d3.scaleLinear().domain(range).range([b.bottom, b.top])
  const grad = defs.append('linearGradient').attr('id', id)
    .attr('x1', 0).attr('y1', 1).attr('x2', 0).attr('y2', 0)
  grad.selectAll('stop').data(rainbowStops).enter().append('stop')
    .attr('offset', d => d)
    .attr('stop-color', (d, i) => rainbowColors[i])
  svg.append('rect')
    .attr('x', b.left).attr('y', b.top).attr('width', b.width).attr('height', b.bottom - b.top)
    .attr('fill', `url(#${id})`)
  svg.append('g').selectAll('line').data(levels).enter().append('line')
    .attr('x1', b.left).attr('x2', b.left + b.width)
    .attr('y1', d => yBar(d)).attr('y2', d => yBar(d))
    .attr('stroke', '#111').attr('stroke-width', 0.9)
  const axisG = svg.append('g')
    .attr('transform', `translate(${b.left + b.width}, 0)`)
    .call(d3.axisRight(yBar).tickValues(ticks).tickSize(4).tickPadding(3))
  axisG.select('.domain').remove()
  axisG.selectAll('line').attr('stroke', '#555')
  axisG.selectAll('text').attr('font-size', 14.5).attr('font-family', '"Liberation Serif", serif').attr('fill', '#2a3f5f')

  const label = svg.append('text').attr('x', b.labelX).attr('y', b.labelY)
    .attr('font-size', 19).attr('font-weight', 'bold').attr('font-style', 'italic')
  label.append('tspan').text('N')
  label.append('tspan').text('\u2605').attr('dy', 4).attr('font-size', 10).attr('font-style', 'normal')
}

drawDensity(
  {left: 114, right: 452.3, top: 6.7, bottom: 350.7, padX: 14, tickSize: 22, titleX: 283, titleY: 422, titleSize: 22, alphaX: 21, alphaY: 180, alphaSize: 18, alphaBold: true, alphaFill: '#2a3f5f', lift: n => (n >= 24 && n <= 42) ? 1.2 : 0.8, softUpTo: 36, softBlur: 'soft2', thickFrom: 42},
  contoursA, fadeA, barRangeA, 6, [splitLow, splitHigh]
)
drawBar({left: 495, width: 30, top: 8, bottom: 351, labelX: 548, labelY: 184}, barRangeA, levelsA, barTicksA, 'barA')

drawDensity(
  {left: 114, right: 458.3, top: 456, bottom: 800, padX: 13, tickSize: 22, titleX: 286, titleY: 869, titleSize: 22, alphaX: 21, alphaY: 628, alphaSize: 18, alphaBold: true, alphaFill: '#2a3f5f', lift: n => n <= 14 ? 0 : 0.25, softUpTo: 54, softBlur: 'soft3', thickFrom: 999},
  contoursB, fadeB, barRangeB, 8, [splitHighB]
)
drawBar({left: 502, width: 30, top: 458, bottom: 801.7, labelX: 548, labelY: 632}, barRangeB, levelsB, barTicksB, 'barB')

// scatter
const optsC = {left: 129, right: 476.7, top: 894.3, bottom: 1221, padX: 8, tickSize: 17, titleX: 303, titleY: 1278, titleSize: 17, alphaX: 52, alphaY: 1058, alphaSize: 15, alphaBold: false, alphaFill: '#6e7f99'}
const panelC = makePanel(optsC)
const groups = [
  {stars: blueStars, fill: '#0a84ff', opacity: 0.62},
  {stars: purpleStars, fill: '#9b4dea', opacity: 0.58},
  {stars: orangeStars, fill: '#ff7a00', opacity: 0.62}
]
groups.forEach(g => {
  panelC.plot.append('g').selectAll('circle').data(g.stars).enter().append('circle')
    .attr('cx', d => panelC.x(d[0]))
    .attr('cy', d => panelC.y(d[1]))
    .attr('r', 3.8)
    .attr('fill', g.fill).attr('fill-opacity', g.opacity)
    .attr('stroke', '#3a2a1a').attr('stroke-opacity', 0.45).attr('stroke-width', 0.8)
})
addFrame(optsC, '#333')
</script>
</body>
</html>
